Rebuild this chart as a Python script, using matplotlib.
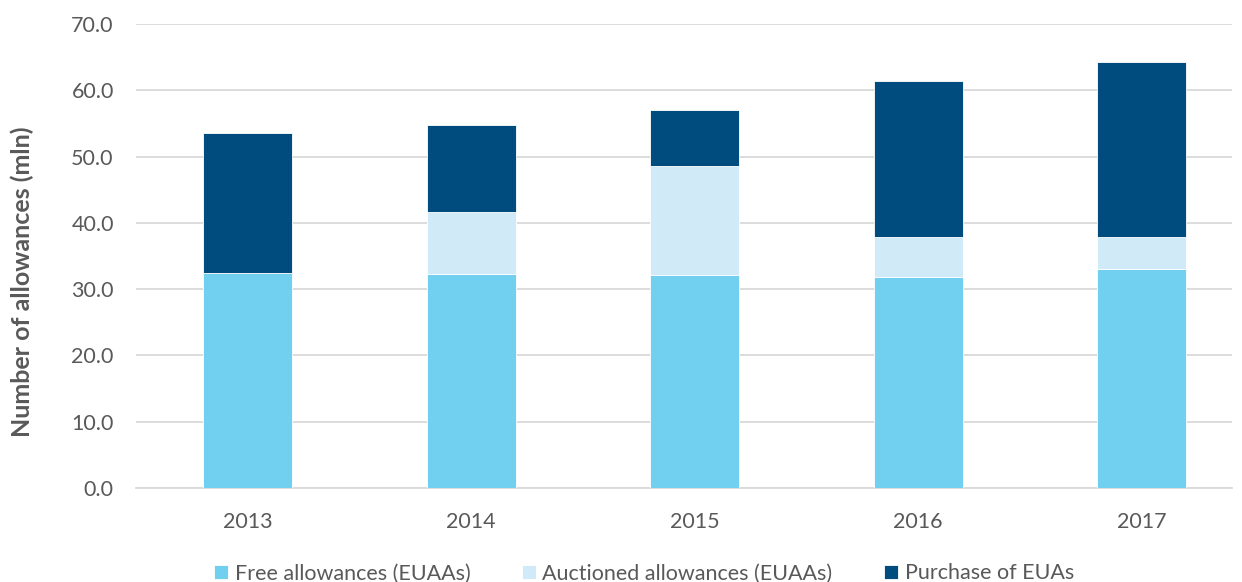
import numpy as np
import matplotlib.pyplot as plt

plt.rcParams['font.family'] = ['Lato', 'DejaVu Sans']

# Данные (млн квот)
years = ['2013', '2014', '2015', '2016', '2017']
free_allowances = [32.4, 32.3, 32.1, 31.85, 33.0]
auctioned_allowances = [0.0, 9.3, 16.5, 6.05, 4.8]
purchase_euas = [21.1, 13.2, 8.4, 23.55, 26.4]

labels = ['Free allowances (EUAAs)', 'Auctioned allowances (EUAAs)', 'Purchase of EUAs']
colors = ['#71CFEF', '#D0EBF7', '#004C7E']
text_color = '#595959'

fig = plt.figure(figsize=(12.42, 5.82), dpi=100)
ax = fig.add_axes([136 / 1242, 94 / 582, (1232 - 136) / 1242, (488 - 24) / 582])

x = np.arange(len(years))
width = 0.4
bottom = np.zeros(len(years))
for vals, lab, col in zip([free_allowances, auctioned_allowances, purchase_euas], labels, colors):
    ax.bar(x, vals, width, bottom=bottom, color=col, label=lab,
           edgecolor='white', linewidth=0.6, zorder=3)
    bottom += np.array(vals)

ax.set_xlim(-0.5, (1232 - 136) / 223.5 - 0.5)
ax.set_ylim(0, 70)
ax.set_yticks(np.arange(0, 71, 10))
ax.set_yticklabels([f'{v:.1f}' for v in np.arange(0, 71, 10)])
ax.set_xticks(x)
ax.set_xticklabels(years)
ax.grid(axis='y', color='#D9D9D9', linewidth=1.3, zorder=0)
for s in ['top', 'right', 'left']:
    ax.spines[s].set_visible(False)
ax.spines['bottom'].set_color('#D9D9D9')
ax.spines['bottom'].set_linewidth(1.3)
ax.tick_params(axis='both', length=0, colors=text_color, labelsize=15.5)
ax.tick_params(axis='y', pad=16)
ax.tick_params(axis='x', pad=17)

ax.set_ylabel('Number of allowances (mln)', fontsize=18, fontweight='bold',
              color=text_color, va='center')
ax.yaxis.set_label_coords(-0.104, 0.444)

ax.legend(loc='lower center', bbox_to_anchor=(0.5 - 40 / 1096, -0.238), ncol=3,
          frameon=False, fontsize=15.5, labelcolor=text_color,
          handlelength=0.65, handleheight=0.65, handletextpad=0.3, columnspacing=2.4,
          borderaxespad=0.3)

plt.savefig('out.png', dpi=100)
